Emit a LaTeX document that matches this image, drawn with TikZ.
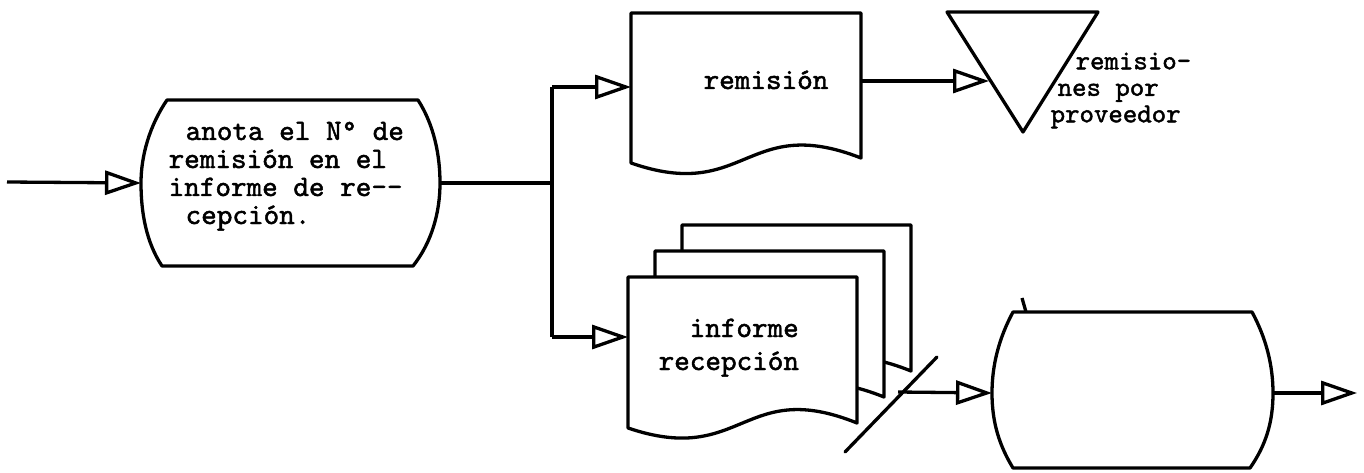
\documentclass[tikz,border=0pt]{standalone}
\usepackage{fontspec}
\usetikzlibrary{arrows.meta}
\newfontfamily\typewriter{lmmono10-regular}[Extension=.otf,FakeBold=1.6]
\begin{document}
\begin{tikzpicture}[x=1pt,y=-1pt,line width=3.3pt,line join=round,
  lbl/.style={font=\typewriter\fontsize{29.7}{31}\selectfont,
              anchor=base west, inner sep=0pt},
  flow/.style={-{Triangle[open,length=36pt,width=24pt]}},
  docshape/.style={draw,fill=white}]
\useasboundingbox (0,0) rectangle (1364,473);

% ---- process: bowed-side box ----
\coordinate (pw) at (141,183);
\coordinate (pe) at (440,183);
\draw (167,100) -- (418,100)
  .. controls (434,125) and (440,155) .. (pe)
  .. controls (440,212) and (432,242) .. (413,266) -- (162,266)
  .. controls (146,242) and (141,212) .. (pw)
  .. controls (141,155) and (150,125) .. (167,100) -- cycle;
\node[lbl] (p1) at (184,140) {anota el N° de};
\node[lbl] (p2) at (167,168) {remisión en el};
\node[lbl] (p3) at (167,196) {informe de re--};
\node[lbl] (p4) at (184,224) {cepción.};

% ---- document: remision ----
\draw[docshape,shift={(631,13)}] (0,0) -- (230,0) -- (230,145)
  .. controls (115,100) and (115,190) .. (0,150) -- cycle;
\node[lbl] (rem) at (702,89) {remisión};
\coordinate (remW) at (631,87);
\coordinate (remE) at (861,81);

% ---- file: triangle ----
\draw (947,12) -- (1098,12) -- (1023,132) -- cycle;
\coordinate (triW) at (989,81);
\node[lbl,font=\typewriter\fontsize{27.5}{26.5}\selectfont,align=left,
      anchor=north west] (file) at (1049,51)
  {\hspace*{25pt}remisio-\\\hspace*{7pt}nes por\\proveedor};

% ---- multi-copy document: informe recepcion ----
\foreach \dx/\dy in {682/225, 655/251, 628/277}
  \draw[docshape,shift={(\dx,\dy)}] (0,0) -- (229,0) -- (229,146)
    .. controls (115,100) and (115,190) .. (0,151) -- cycle;
\node[lbl] (inf1) at (688,337) {informe};
\node[lbl] (inf2) at (657,370) {recepción};
\coordinate (infW) at (628,337);

% ---- terminal box (empty) ----
\coordinate (bw) at (992,393);
\coordinate (be) at (1273,393);
\draw (1013,312) -- (1252,312)
  .. controls (1266,338) and (1273,365) .. (be)
  .. controls (1273,422) and (1266,445) .. (1250,468) -- (1013,468)
  .. controls (999,445) and (992,422) .. (bw)
  .. controls (992,365) and (999,338) .. (1013,312) -- cycle;
\draw (1022,298) -- (1026,312);

% ---- connectors ----
\coordinate (in) at (7,182);
\coordinate (split) at (552,183);
\coordinate (splitT) at (552,87);
\coordinate (splitB) at (552,337);
\coordinate (cut) at (898,392);
\coordinate (out) at (1357,393);

\draw[flow] (in) -- (pw);
\draw (pe) -- (split);
\draw (splitT) -- (splitB);
\draw[flow] (splitT) -- (remW);
\draw[flow] (splitB) -- (infW);
\draw[flow] (remE) -- (triW);
\draw[line cap=round] (845,452) -- (937,357);
\draw[flow] (cut) -- (bw);
\draw[flow] (be) -- (out);
\end{tikzpicture}
\end{document}
